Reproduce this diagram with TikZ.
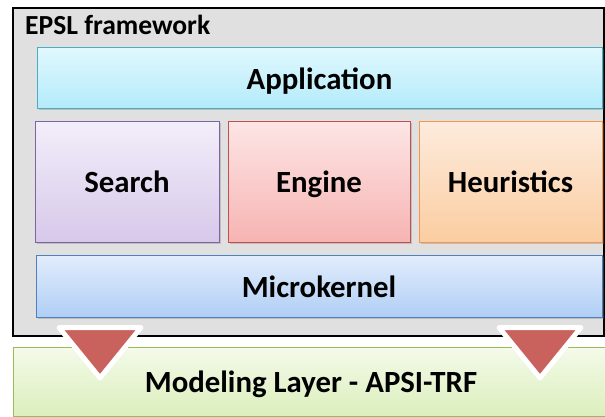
\documentclass[tikz,border=0pt]{standalone}
\usepackage{fontspec}
\setmainfont{Carlito}
\usetikzlibrary{shadows}
\definecolor{frameGray}{HTML}{E0E0E0}
\definecolor{appTop}{HTML}{E0F8FE}
\definecolor{appBot}{HTML}{B3EBFA}
\definecolor{appLine}{HTML}{4BACC6}
\definecolor{srchTop}{HTML}{F2EEFA}
\definecolor{srchBot}{HTML}{D7C8EA}
\definecolor{srchLine}{HTML}{8064A2}
\definecolor{engTop}{HTML}{FDE5E5}
\definecolor{engBot}{HTML}{F6B4B2}
\definecolor{engLine}{HTML}{C0504D}
\definecolor{heurTop}{HTML}{FDEBDD}
\definecolor{heurBot}{HTML}{FBCDA0}
\definecolor{heurLine}{HTML}{F79646}
\definecolor{microTop}{HTML}{E2EDFC}
\definecolor{microBot}{HTML}{B0CEF5}
\definecolor{microLine}{HTML}{4F81BD}
\definecolor{modTop}{HTML}{F4FAEA}
\definecolor{modBot}{HTML}{DCEFBC}
\definecolor{modLine}{HTML}{9BBB59}
\definecolor{arrowRed}{HTML}{C9625C}
\tikzstyle{frame} = [rectangle, draw=black, line width=1.2pt, fill=frameGray, minimum width=591pt, minimum height=328pt]
\tikzstyle{layer} = [rectangle, line width=1pt, text centered, text height=22pt, text depth=0pt, font=\bfseries\fontsize{30.8}{34}\selectfont, drop shadow={shadow xshift=1.5pt, shadow yshift=-1.5pt, opacity=.35}]
\tikzstyle{title} = [font=\bfseries\fontsize{27.6}{31}\selectfont, anchor=base west, inner sep=0pt]
\tikzstyle{flow} = [draw=white, line width=5pt, line join=round, fill=arrowRed]

\begin{document}
\begin{tikzpicture}[x=1pt, y=-1pt]
\useasboundingbox (0,0) rectangle (605,417);
\node (epsl) [frame] at (308.5,172) {};
\node (lbl) [title] at (25,35) {EPSL framework};
\node (app) [layer, draw=appLine, top color=appTop, bottom color=appBot, minimum width=565pt, minimum height=61pt] at (319.5,78.5) {Application};
\node (search) [layer, draw=srchLine, top color=srchTop, bottom color=srchBot, minimum width=184pt, minimum height=120pt] at (127,182) {Search};
\node (engine) [layer, draw=engLine, top color=engTop, bottom color=engBot, minimum width=182pt, minimum height=120pt] at (319,182) {Engine};
\node (heur) [layer, draw=heurLine, top color=heurTop, bottom color=heurBot, minimum width=183pt, minimum height=120pt] at (510.5,182) {Heuristics};
\node (micro) [layer, draw=microLine, top color=microTop, bottom color=microBot, minimum width=566pt, minimum height=62pt] at (319,286) {Microkernel};
\node (model) [layer, draw=modLine, top color=modTop, bottom color=modBot, minimum width=596pt, minimum height=69pt] at (311,381.5) {Modeling Layer - APSI-TRF};
% arrows from the framework down to the modeling layer
\draw [flow] (59,327.5) -- (141,327.5) -- (100,378) -- cycle;
\draw [flow] (499,327.5) -- (581,327.5) -- (540,378) -- cycle;
\end{tikzpicture}
\end{document}
